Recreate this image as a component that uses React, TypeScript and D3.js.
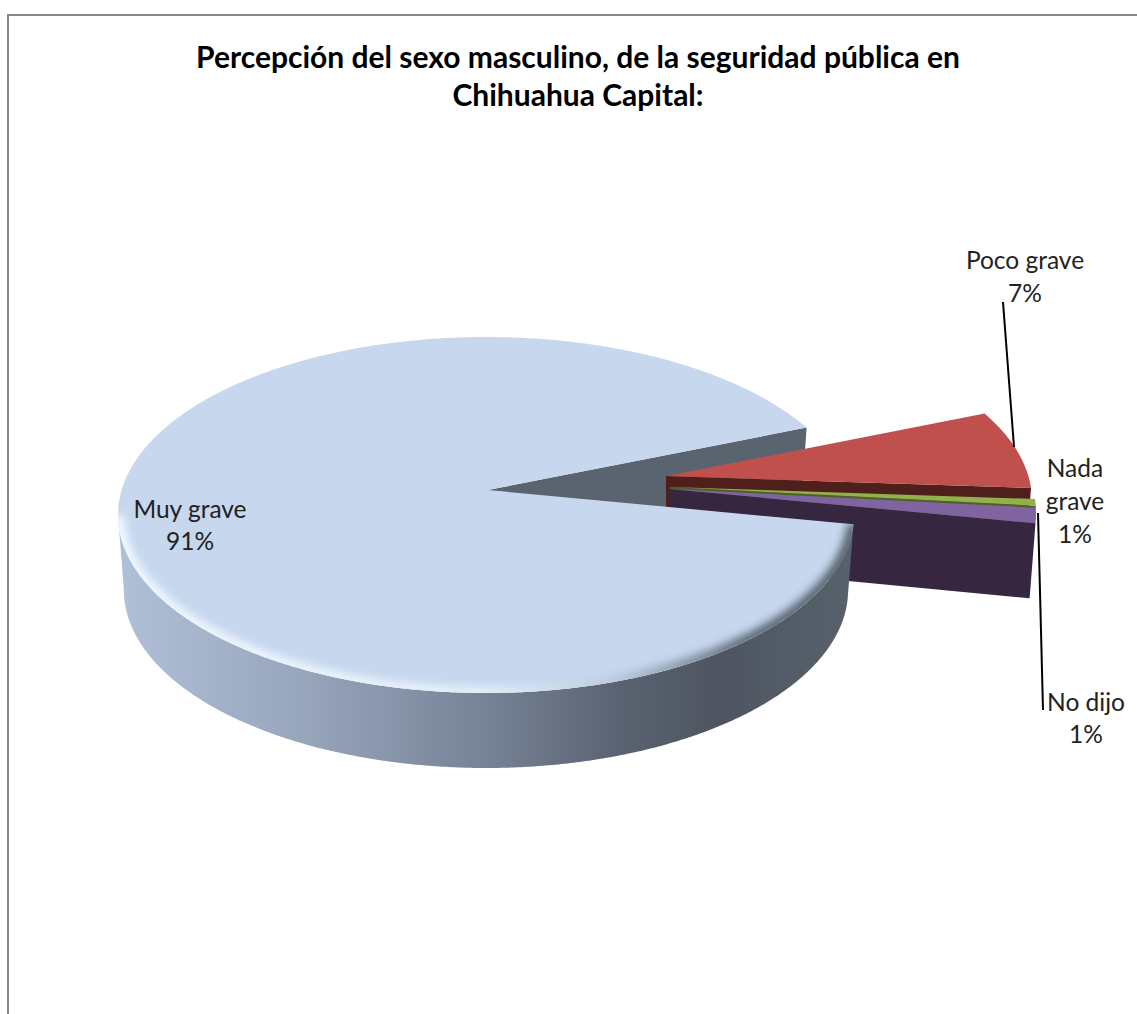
import React from "react";
import * as d3 from "d3";

const categories = ["Muy grave", "Poco grave", "Nada grave", "No dijo"];
const values = [91, 7, 0.6, 1.4];
const titleLines = ["Percepción del sexo masculino, de la seguridad pública en", "Chihuahua  Capital:"];

const topColors = ["#c6d7ee", "#c0504d", "#92b14c", "#8064a2"];
const cutColors = ["#59646e", "#4f1f1c", "#4f6128", "#37263f"];
const explodeX = [0, 178, 182, 182];
const explodeY = [0, -14, -3, -1];
const labelLines = [["Muy grave"], ["Poco grave"], ["Nada", "grave"], ["No dijo"]];
const labelX = [190, 1025, 1075, 1086];
const labelY = [518, 269, 477, 711];
const labelStep = [32, 33, 33, 32];
const leaders = [
  [[1003, 302], [1014, 447]],
  [[1038, 513], [1043, 710]],
];

const W = 1137;
const H = 1014;
const rx = 368;
const ry = 178;
const cx = 486;
const cy = 515;
const apexX = 488;
const apexY = 490;
const depth = 75;
const bottomShrink = 0.984;
const rad = Math.PI / 180;

type P = [number, number];
const lineGen = d3.line<P>().x((d) => d[0]).y((d) => d[1]);

const pie = d3
  .pie<number>()
  .sort(null)
  .value((d) => d)
  .startAngle(93 * rad)
  .endAngle((93 + 360) * rad);
const arcs = pie(values);

function topPt(a: number, i: number): P {
  return [cx + explodeX[i] + rx * Math.sin(a), cy + explodeY[i] - ry * Math.cos(a)];
}
function botPt(a: number, i: number): P {
  return [
    cx + explodeX[i] + rx * bottomShrink * Math.sin(a),
    cy + explodeY[i] + depth - ry * Math.cos(a),
  ];
}
function apexPt(i: number): P {
  return [apexX + explodeX[i], apexY + explodeY[i]];
}
function sample(a0: number, a1: number): number[] {
  const n = Math.max(2, Math.ceil(Math.abs(a1 - a0) / (0.5 * rad)));
  return d3.range(n + 1).map((k) => a0 + ((a1 - a0) * k) / n);
}
function topPath(i: number) {
  const { startAngle, endAngle } = arcs[i];
  return lineGen([apexPt(i), ...sample(startAngle, endAngle).map((a) => topPt(a, i))]) + "Z";
}
function cutPath(i: number, a: number) {
  const ap = apexPt(i);
  const e = topPt(a, i);
  const eb = botPt(a, i);
  return lineGen([ap, e, eb, [ap[0], ap[1] + depth]]) + "Z";
}
function wallPath(i: number, a0: number, a1: number) {
  const s = sample(a0, a1);
  return lineGen([...s.map((a) => topPt(a, i)), ...s.slice().reverse().map((a) => botPt(a, i))]) + "Z";
}

export default function App() {
  const fmt = d3.format(".0%");
  const total = d3.sum(values);
  const main = arcs[0];
  return (
    <svg
      width={W}
      height={H}
      viewBox={`0 0 ${W} ${H}`}
      style={{ position: "absolute", left: 0, top: 0, background: "#fff" }}
    >
      <defs>
        <linearGradient id="wall" gradientUnits="userSpaceOnUse" x1={118} x2={854} y1={0} y2={0}>
          <stop offset="0" stopColor="#b0c0d8" />
          <stop offset="0.25" stopColor="#98a6bc" />
          <stop offset="0.5" stopColor="#768296" />
          <stop offset="0.68" stopColor="#5a6372" />
          <stop offset="0.82" stopColor="#4e5560" />
          <stop offset="1" stopColor="#57626d" />
        </linearGradient>
        <linearGradient id="rim" gradientUnits="userSpaceOnUse" x1={118} x2={854} y1={0} y2={0}>
          <stop offset="0" stopColor="#f2f9ff" />
          <stop offset="0.5" stopColor="#e6f0fb" />
          <stop offset="0.68" stopColor="#b9c8da" />
          <stop offset="0.85" stopColor="#5d6975" />
          <stop offset="1" stopColor="#55606b" />
        </linearGradient>
        <clipPath id="mainClip">
          <path d={topPath(0)} />
        </clipPath>
        <filter id="soft" x="0" y="0" width={W} height={H} filterUnits="userSpaceOnUse">
          <feGaussianBlur stdDeviation="4" />
        </filter>
      </defs>

      <path d={`M8,${H}V15H${W}`} fill="none" stroke="#868686" strokeWidth={2} />

      <path d={cutPath(0, main.endAngle)} fill={cutColors[0]} />
      {[1, 2, 3].map((i) => (
        <g key={categories[i]}>
          <path d={cutPath(i, arcs[i].endAngle)} fill={cutColors[i]} />
          <path d={topPath(i)} fill={topColors[i]} />
        </g>
      ))}

      <path d={wallPath(0, main.startAngle, 270 * rad)} fill="url(#wall)" />
      <path d={topPath(0)} fill={topColors[0]} />
      <g clipPath="url(#mainClip)">
        <path
          d={lineGen(sample(main.startAngle, 270 * rad).map((a) => topPt(a, 0))) as string}
          fill="none"
          stroke="url(#rim)"
          strokeWidth={13}
          filter="url(#soft)"
        />
      </g>

      {leaders.map((l, i) => (
        <path key={i} d={lineGen(l as P[]) as string} fill="none" stroke="#000" strokeWidth={2} />
      ))}

      <g fontFamily="Lato, Carlito, sans-serif">
        {titleLines.map((t, i) => (
          <text
            key={i}
            x={578}
            y={68 + i * 38}
            textAnchor="middle"
            fontSize={30}
            fontWeight={700}
            fill="#000"
          >
            {t}
          </text>
        ))}
        {categories.map((c, i) => (
          <text key={c} textAnchor="middle" fontSize={24.5} fill="#222">
            {[...labelLines[i], fmt(values[i] / total)].map((line, k) => (
              <tspan key={k} x={labelX[i]} y={labelY[i] + k * labelStep[i]}>
                {line}
              </tspan>
            ))}
          </text>
        ))}
      </g>
    </svg>
  );
}
